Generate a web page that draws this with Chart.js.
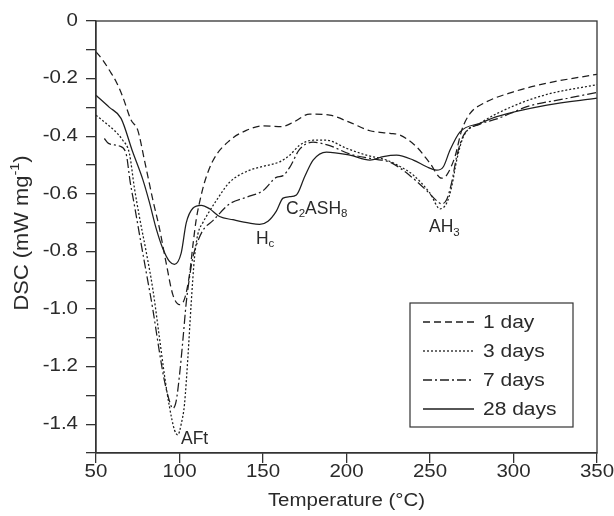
<!DOCTYPE html>
<html>
<head>
<meta charset="utf-8">
<script src="https://cdn.jsdelivr.net/npm/chart.js@4"></script>
<style>
html, body { margin: 0; padding: 0; background: #fff; }
</style>
</head>
<body>
<canvas id="myChart" width="614" height="516"></canvas>
<script>
const labels = ['1 day', '3 days', '7 days', '28 days']

const day1T = [50, 54, 58, 62, 66, 71, 75, 79, 84, 88, 92, 96, 100, 103, 106, 108, 110, 112, 115, 120, 130, 140, 150, 161, 168, 178, 190, 202, 214, 226, 232, 242, 250, 257, 260, 265, 269, 274, 282, 300, 320, 350]
const day1V = [-0.107, -0.135, -0.171, -0.21, -0.263, -0.344, -0.379, -0.483, -0.62, -0.72, -0.84, -0.95, -0.985, -0.965, -0.88, -0.78, -0.69, -0.63, -0.56, -0.485, -0.415, -0.38, -0.364, -0.367, -0.352, -0.323, -0.327, -0.352, -0.381, -0.39, -0.396, -0.437, -0.494, -0.546, -0.535, -0.47, -0.379, -0.321, -0.286, -0.246, -0.216, -0.185]

const day3T = [50, 56, 61, 66, 70, 73, 76, 80, 84, 88, 91, 94, 97, 99, 101, 103, 105, 107, 109, 111, 114, 118, 122, 130, 142, 150, 160, 166, 172, 180, 188, 200, 212, 224, 232, 240, 250, 256, 260, 263, 266, 270, 280, 300, 320, 350]
const day3V = [-0.327, -0.355, -0.38, -0.414, -0.46, -0.58, -0.68, -0.8, -0.93, -1.1, -1.23, -1.34, -1.42, -1.437, -1.4, -1.33, -1.17, -0.98, -0.82, -0.74, -0.7, -0.66, -0.624, -0.56, -0.518, -0.505, -0.489, -0.466, -0.431, -0.414, -0.414, -0.442, -0.466, -0.483, -0.505, -0.535, -0.598, -0.652, -0.632, -0.575, -0.483, -0.402, -0.355, -0.295, -0.255, -0.221]

const day7T = [55, 57.5, 64, 68, 70.5, 73, 76, 80, 84, 88, 91, 94, 96, 98, 100, 102, 104, 106, 108, 110, 114, 120, 130, 140, 150, 158, 162, 166, 172, 180, 190, 202, 216, 226, 238, 248, 254, 257, 260, 263, 266, 270, 280, 290, 310, 330, 350]
const day7V = [-0.408, -0.425, -0.434, -0.46, -0.56, -0.64, -0.74, -0.87, -1.0, -1.15, -1.25, -1.32, -1.345, -1.32, -1.23, -1.11, -0.98, -0.89, -0.82, -0.78, -0.727, -0.693, -0.635, -0.612, -0.589, -0.543, -0.537, -0.508, -0.445, -0.421, -0.433, -0.462, -0.479, -0.49, -0.537, -0.589, -0.624, -0.635, -0.62, -0.56, -0.47, -0.398, -0.358, -0.34, -0.294, -0.271, -0.248]

const day28T = [50, 58, 65, 72, 78, 82, 86, 90, 94, 97, 101, 104, 108, 113, 118, 124, 132, 142, 148, 153, 158, 162, 166, 170, 175, 180, 188, 202, 214, 222, 230, 240, 248, 254, 258, 262, 268, 280, 290, 320, 350]
const day28V = [-0.258, -0.3, -0.338, -0.455, -0.55, -0.63, -0.72, -0.79, -0.835, -0.845, -0.806, -0.702, -0.65, -0.64, -0.652, -0.679, -0.69, -0.702, -0.706, -0.695, -0.66, -0.615, -0.61, -0.604, -0.54, -0.483, -0.455, -0.466, -0.483, -0.471, -0.466, -0.483, -0.506, -0.518, -0.506, -0.448, -0.385, -0.355, -0.332, -0.292, -0.268]

const INK = '#1e1e1e'
const TEXT = '#2a2a2a'
const FONT = '"Liberation Sans", Arial, sans-serif'
const SIZE = 17.5
const SUB = 11.5
const WIDE = 1.17

const toPoints = (t, v) => t.map((x, i) => ({ x: x, y: v[i] }))

const makeSet = (label, t, v, dash) => ({
    label: label,
    data: toPoints(t, v),
    borderColor: INK,
    borderWidth: 1.25,
    borderDash: dash,
    pointRadius: 0,
    fill: false,
    cubicInterpolationMode: 'monotone'
})

// text drawn with a horizontal stretch, like the source figure
const drawText = (c, str, x, y, align, sx) => {
    c.save()
    c.font = SIZE + 'px ' + FONT
    const w = c.measureText(str).width * sx
    const x0 = align === 'right' ? x - w : (align === 'center' ? x - w / 2 : x)
    c.translate(x0, y)
    c.scale(sx, 1)
    c.textAlign = 'left'
    c.fillText(str, 0, 0)
    c.restore()
}

const drawRich = (c, parts, x, y) => {
    let px = x
    parts.forEach(p => {
        c.font = (p[1] !== 'n' ? SUB : SIZE) + 'px ' + FONT
        const dy = p[1] === 'sub' ? 5 : (p[1] === 'sup' ? -6 : 0)
        c.fillText(p[0], px, y + dy)
        px += c.measureText(p[0]).width
    })
}

const richWidth = (c, parts) => {
    let w = 0
    parts.forEach(p => {
        c.font = (p[1] !== 'n' ? SUB : SIZE) + 'px ' + FONT
        w += c.measureText(p[0]).width
    })
    return w
}

const notes = [
    { x: 100.9, y: -1.451, parts: [['AFt', 'n']] },
    { x: 145.8, y: -0.757, parts: [['H', 'n'], ['c', 'sub']] },
    { x: 163.8, y: -0.653, parts: [['C', 'n'], ['2', 'sub'], ['ASH', 'n'], ['8', 'sub']] },
    { x: 249.4, y: -0.717, parts: [['AH', 'n'], ['3', 'sub']] }
]

const yLabel = v => {
    const k = Math.round(v * 10)
    if (k % 2 !== 0) return ''
    return k === 0 ? '0' : (k / 10).toFixed(1)
}

const extras = {
    id: 'extras',
    afterDraw(chart) {
        const c = chart.ctx
        const a = chart.chartArea
        const xs = chart.scales.x
        const ys = chart.scales.y
        c.save()
        c.strokeStyle = '#333'
        c.lineWidth = 1.3
        c.strokeRect(a.left, a.top, a.right - a.left, a.bottom - a.top)

        c.fillStyle = TEXT
        c.textBaseline = 'middle'
        c.textAlign = 'left'

        xs.ticks.forEach(t => {
            drawText(c, String(t.value), xs.getPixelForValue(t.value), 472, 'center', WIDE)
        })
        ys.ticks.forEach(t => {
            const s = yLabel(t.value)
            if (s) drawText(c, s, 78, ys.getPixelForValue(t.value), 'right', WIDE)
        })

        notes.forEach(n => {
            drawRich(c, n.parts, xs.getPixelForValue(n.x), ys.getPixelForValue(n.y))
        })

        // legend
        const box = { l: 410, t: 303, r: 573, b: 427 }
        c.strokeStyle = '#333'
        c.lineWidth = 1.2
        c.strokeRect(box.l, box.t, box.r - box.l, box.b - box.t)
        chart.data.datasets.forEach((ds, i) => {
            const yy = 322 + i * 29
            c.save()
            c.strokeStyle = INK
            c.lineWidth = 1.3
            c.setLineDash(ds.borderDash || [])
            c.beginPath()
            c.moveTo(423, yy)
            c.lineTo(474, yy)
            c.stroke()
            c.restore()
            drawText(c, ds.label, 483, yy + 1, 'left', 1.2)
        })

        // axis titles
        drawText(c, 'Temperature (°C)', (a.left + a.right) / 2, 501, 'center', WIDE)
        const yt = [['DSC (mW mg', 'n'], ['-1', 'sup'], [')', 'n']]
        c.translate(22, 233)
        c.rotate(-Math.PI / 2)
        c.scale(1.25, 1.15)
        drawRich(c, yt, -richWidth(c, yt) / 2, 0)
        c.restore()
    }
}

const ctx = document.getElementById('myChart')

var chart = new Chart(ctx, {
    type: 'line',
    data: {
        datasets: [
            makeSet(labels[0], day1T, day1V, [7, 4]),
            makeSet(labels[1], day3T, day3V, [2, 2]),
            makeSet(labels[2], day7T, day7V, [9, 3, 2, 3]),
            makeSet(labels[3], day28T, day28V, [])
        ]
    },
    options: {
        responsive: false,
        animation: false,
        devicePixelRatio: 1,
        layout: { padding: { top: 21, right: 17, left: 0, bottom: 0 } },
        plugins: {
            legend: { display: false },
            tooltip: { enabled: false }
        },
        scales: {
            x: {
                type: 'linear',
                min: 50,
                max: 350,
                afterFit: s => { s.height = 63 },
                border: { color: '#333', width: 1.3 },
                grid: { drawOnChartArea: false, tickLength: 10, color: '#333', lineWidth: 1.3 },
                ticks: { stepSize: 50, display: false }
            },
            y: {
                min: -1.5,
                max: 0,
                afterFit: s => { s.width = 96 },
                border: { color: '#333', width: 1.3 },
                grid: { drawOnChartArea: false, tickLength: 10, color: '#333', lineWidth: 1.3 },
                ticks: { stepSize: 0.1, autoSkip: false, display: false }
            }
        }
    },
    plugins: [extras]
})
</script>
</body>
</html>
